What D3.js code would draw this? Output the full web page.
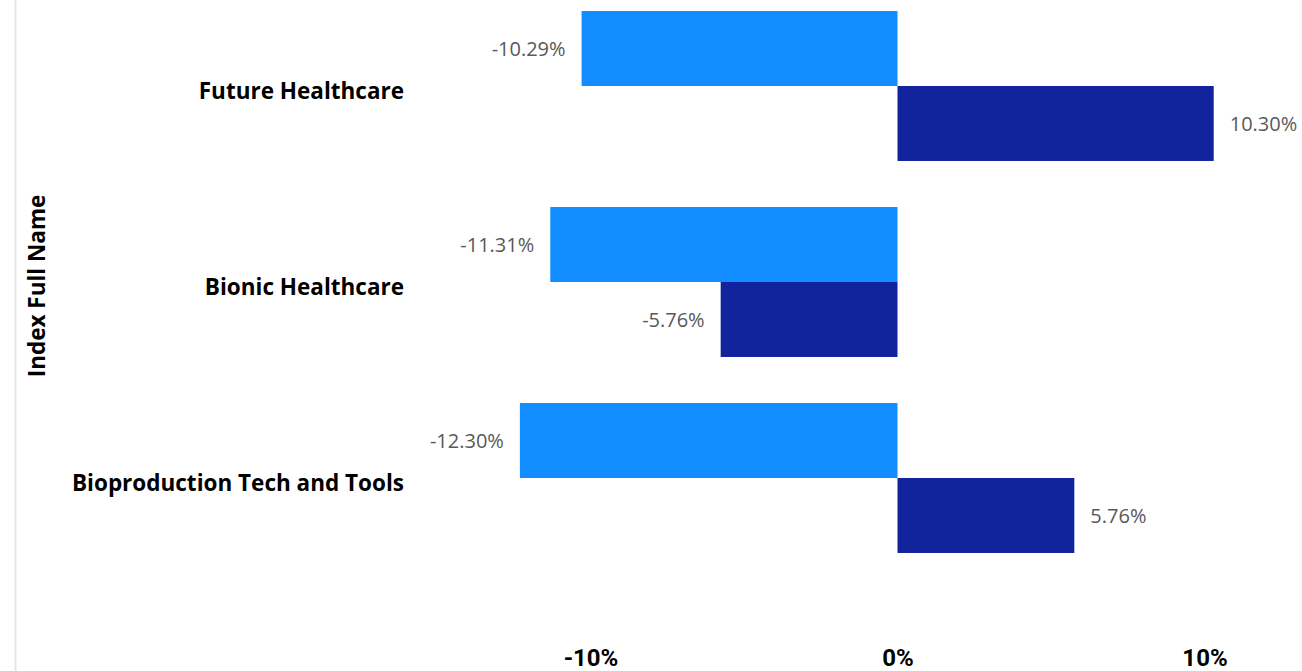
<!DOCTYPE html>
<html><head><meta charset="utf-8">
<script src="https://cdn.jsdelivr.net/npm/d3@7"></script>
<style>
html,body{margin:0;padding:0;background:#fff;overflow:hidden}
</style></head>
<body><svg id="c" width="1302" height="671"></svg>
<script>
const categories = ["Future Healthcare", "Bionic Healthcare", "Bioproduction Tech and Tools"];
const seriesA = [-10.29, -11.31, -12.30];
const seriesB = [10.30, -5.76, 5.76];
const tickValues = [-10, 0, 10];
const colors = ["#118DFF", "#12239E"];

const svg = d3.select("#c");
const x = d3.scaleLinear().domain([-15, 15]).range([897.5 - 460.5, 897.5 + 460.5]);
const y = d3.scaleBand().domain(categories).range([-12, 576]).paddingInner(0.235).paddingOuter(0.1175);
const sub = d3.scaleBand().domain([0, 1]).range([0, y.bandwidth()]);

// left border line
svg.append("line").attr("x1", 15.5).attr("x2", 15.5).attr("y1", 0).attr("y2", 671)
  .attr("stroke", "#e6e6e6").attr("stroke-width", 2);

// axis title
svg.append("text").attr("transform", "translate(45,286) rotate(-90)")
  .attr("text-anchor", "middle").attr("font-family", "'Open Sans', sans-serif")
  .attr("font-weight", 700).attr("font-size", 22.5).attr("fill", "#000").text("Index Full Name");

const series = [seriesA, seriesB];
series.forEach((vals, si) => {
  const g = svg.append("g");
  g.selectAll("rect").data(vals).join("rect")
    .attr("x", d => Math.min(x(0), x(d)))
    .attr("width", d => Math.abs(x(d) - x(0)))
    .attr("y", (d, i) => y(categories[i]) + sub(si))
    .attr("height", sub.bandwidth())
    .attr("fill", colors[si]);
  g.selectAll("text").data(vals).join("text")
    .attr("x", d => d < 0 ? x(d) - 16 : x(d) + 16)
    .attr("y", (d, i) => y(categories[i]) + sub(si) + sub.bandwidth() / 2)
    .attr("dominant-baseline", "central")
    .attr("text-anchor", d => d < 0 ? "end" : "start")
    .attr("font-family", "'Open Sans', sans-serif").attr("font-size", 20)
    .attr("fill", "#595959")
    .text(d => d.toFixed(2) + "%");
});

// category labels
svg.append("g").selectAll("text").data(categories).join("text")
  .attr("x", 404).attr("y", d => y(d) + y.bandwidth() / 2 + 4)
  .attr("dominant-baseline", "central").attr("text-anchor", "end")
  .attr("font-family", "'Open Sans', sans-serif").attr("font-weight", 700)
  .attr("font-size", 22.5).attr("fill", "#000").text(d => d);

// x axis tick labels
const ax = svg.append("g").attr("transform", "translate(0,657.5)")
  .call(d3.axisBottom(x).tickValues(tickValues).tickSize(0).tickPadding(0).tickFormat(d => d + "%"));
ax.select(".domain").remove();
ax.selectAll("text").attr("dy", null).attr("dominant-baseline", "central")
  .attr("font-family", "'Liberation Sans Narrow', 'Roboto', sans-serif")
  .attr("font-weight", 700).attr("font-size", 24).attr("fill", "#000");
</script></body></html>
